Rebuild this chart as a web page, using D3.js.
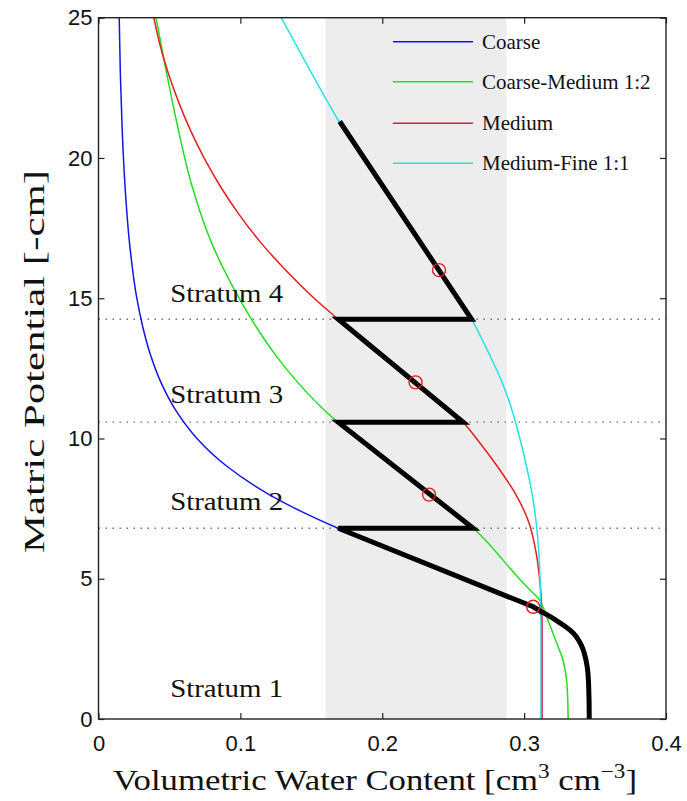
<!DOCTYPE html>
<html>
<head>
<meta charset="utf-8">
<script src="https://cdn.jsdelivr.net/npm/d3@7"></script>
<style>
  html, body { margin: 0; padding: 0; background: #fff; }
  svg { display: block; }
  .tick text { font-family: "Liberation Sans", Arial, sans-serif; font-size: 22px; fill: #111; }
  .serif { font-family: "Liberation Serif", "Times New Roman", serif; fill: #111; }
</style>
</head>
<body>
<svg id="chart" width="687" height="801"></svg>
<script>
// Water retention curves: [volumetric water content, matric potential (-cm)]
const coarse = [
  [0.0146, 25], [0.0154, 23], [0.0167, 21], [0.0187, 19], [0.0218, 17],
  [0.0270, 15], [0.0311, 14], [0.0365, 13], [0.0440, 12], [0.0545, 11],
  [0.0694, 10], [0.0907, 9], [0.1203, 8], [0.1429, 7.4], [0.1688, 6.8],
  [0.2081, 6], [0.2573, 5], [0.2818, 4.5], [0.3064, 4.0], [0.3112, 3.8],
  [0.3123, 3.5], [0.3123, 0]
];
const coarseMedium = [
  [0.0405, 25], [0.0481, 23], [0.0563, 21], [0.0659, 19], [0.0795, 17],
  [0.0991, 15], [0.1109, 14], [0.1244, 13], [0.1404, 12], [0.1594, 11],
  [0.1688, 10.58], [0.1834, 10], [0.2086, 9], [0.2338, 8], [0.2490, 7.4],
  [0.2641, 6.8], [0.2723, 6.4], [0.2811, 5.9], [0.2896, 5.4], [0.2973, 4.96],
  [0.3041, 4.6], [0.3108, 4.25], [0.3132, 4.0], [0.3162, 3.6], [0.3203, 3.06],
  [0.3238, 2.6], [0.3266, 2.23], [0.3287, 1.8], [0.3299, 1.39], [0.3306, 0.9],
  [0.3309, 0.4], [0.3310, 0]
];
const medium = [
  [0.0390, 25], [0.0435, 24], [0.0493, 23], [0.0564, 22], [0.0647, 21],
  [0.0744, 20], [0.0857, 19], [0.0989, 18], [0.1141, 17], [0.1320, 16],
  [0.1520, 15], [0.1688, 14.25], [0.1850, 13.5], [0.2100, 12.5], [0.2235, 12],
  [0.2360, 11.5], [0.2485, 11], [0.2571, 10.58], [0.2664, 10], [0.2812, 9],
  [0.2942, 8], [0.3034, 7], [0.3082, 6], [0.3109, 5], [0.3118, 4.5],
  [0.3123, 4], [0.3126, 3.5], [0.3126, 0]
];
const mediumFine = [
  [0.1288, 25], [0.1396, 24], [0.1505, 23], [0.1615, 22], [0.1695, 21.3],
  [0.1871, 20], [0.2135, 18], [0.2399, 16], [0.2630, 14.25], [0.2755, 13],
  [0.2845, 12], [0.2915, 11], [0.2970, 10], [0.3017, 9], [0.3057, 8],
  [0.3085, 7], [0.3103, 6], [0.3112, 5], [0.3117, 4], [0.3119, 3.5], [0.3119, 0]
];
// Layered profile through the four strata
const profile = [
  [0.3459, 0], [0.3458, 0.6], [0.3456, 1.0], [0.3454, 1.3], [0.3450, 1.63],
  [0.3445, 1.85], [0.3436, 2.1], [0.3424, 2.35], [0.3414, 2.5], [0.3401, 2.65],
  [0.3385, 2.8], [0.3367, 2.94], [0.3347, 3.06], [0.3324, 3.17], [0.3290, 3.3],
  [0.3255, 3.42], [0.3210, 3.57], [0.3160, 3.72], [0.3110, 3.86], [0.3064, 4.0],
  [0.1690, 6.8], [0.2641, 6.8], [0.1690, 10.58], [0.2571, 10.58],
  [0.1690, 14.25], [0.2630, 14.25], [0.1700, 21.3]
];
const markers = [[0.3064, 4], [0.2330, 8], [0.2235, 12], [0.2400, 16]];
const boundaries = [6.8, 10.58, 14.25];
const band = [0.16, 0.2875];
const strata = ["Stratum 1", "Stratum 2", "Stratum 3", "Stratum 4"];
const seriesNames = ["Coarse", "Coarse-Medium 1:2", "Medium", "Medium-Fine 1:1"];
const seriesColors = ["#1414e6", "#22dd22", "#e61e1e", "#22e4e4"];
const xTicks = [0, 0.1, 0.2, 0.3, 0.4];
const xTickLabels = ["0", "0.1", "0.2", "0.3", "0.4"];
const yTicks = [0, 5, 10, 15, 20, 25];
const yTickLabels = ["0", "5", "10", "15", "20", "25"];

(function draw() {
  const svg = d3.select("#chart");
  const pl = 98.5, pr = 666, pt = 17.7, pb = 719;
  const x = d3.scaleLinear().domain([0, 0.4]).range([pl, pr]);
  const y = d3.scaleLinear().domain([0, 25]).range([pb, pt]);

  svg.append("defs").append("clipPath").attr("id", "plot-clip")
    .append("rect").attr("x", pl).attr("y", pt)
    .attr("width", pr - pl).attr("height", pb - pt);

  const plot = svg.append("g").attr("clip-path", "url(#plot-clip)");

  // shaded theta range
  plot.append("rect")
    .attr("x", x(band[0])).attr("y", pt)
    .attr("width", x(band[1]) - x(band[0])).attr("height", pb - pt)
    .attr("fill", "#ededed");

  // strata boundaries
  plot.selectAll("line.boundary").data(boundaries).join("line")
    .attr("class", "boundary")
    .attr("x1", pl).attr("x2", pr)
    .attr("y1", d => y(d)).attr("y2", d => y(d))
    .attr("stroke", "#666").attr("stroke-width", 1.3)
    .attr("stroke-dasharray", "1.4,5.6");

  // retention curves, ordered top to bottom so y is monotonic
  const curveLine = d3.line()
    .x(d => x(d[0])).y(d => y(d[1]))
    .curve(d3.curveMonotoneY);
  const allSeries = [coarse, coarseMedium, medium, mediumFine];
  allSeries.forEach((s, i) => {
    plot.append("path")
      .datum(s.slice().sort((a, b) => b[1] - a[1]))
      .attr("d", curveLine)
      .attr("fill", "none")
      .attr("stroke", seriesColors[i])
      .attr("stroke-width", 1.5);
  });

  // layered profile
  plot.append("path")
    .datum(profile)
    .attr("d", d3.line().x(d => x(d[0])).y(d => y(d[1])))
    .attr("fill", "none")
    .attr("stroke", "#000")
    .attr("stroke-width", 5)
    .attr("stroke-linejoin", "miter");

  plot.selectAll("circle.marker").data(markers).join("circle")
    .attr("class", "marker")
    .attr("cx", d => x(d[0])).attr("cy", d => y(d[1]))
    .attr("r", 6.5)
    .attr("fill", "none")
    .attr("stroke", "#e02020")
    .attr("stroke-width", 1.4);

  // stratum labels
  const labelPsi = [0.8, 7.45, 11.28, 14.87];
  svg.selectAll("text.stratum").data(strata).join("text")
    .attr("class", "stratum serif")
    .attr("x", x(0.0505))
    .attr("y", (d, i) => y(labelPsi[i]))
    .attr("font-size", 26)
    .attr("textLength", 113)
    .attr("lengthAdjust", "spacingAndGlyphs")
    .text(d => d);

  // axes: ticks point inward on all four sides
  const axisG = svg.append("g");
  axisG.append("g").attr("transform", `translate(0,${pb})`)
    .call(d3.axisBottom(x).tickValues(xTicks).tickSize(-6).tickPadding(16)
      .tickFormat((d, i) => xTickLabels[i]));
  axisG.append("g").attr("transform", `translate(0,${pt})`)
    .call(d3.axisTop(x).tickValues(xTicks).tickSize(-6).tickFormat(""));
  axisG.append("g").attr("transform", `translate(${pl},0)`)
    .call(d3.axisLeft(y).tickValues(yTicks).tickSize(-6).tickPadding(6)
      .tickFormat((d, i) => yTickLabels[i]));
  axisG.append("g").attr("transform", `translate(${pr},0)`)
    .call(d3.axisRight(y).tickValues(yTicks).tickSize(-6).tickFormat(""));
  axisG.selectAll(".domain").remove();
  axisG.selectAll(".tick line").attr("stroke", "#222").attr("stroke-width", 1.2);

  svg.append("rect")
    .attr("x", pl).attr("y", pt)
    .attr("width", pr - pl).attr("height", pb - pt)
    .attr("fill", "none").attr("stroke", "#222").attr("stroke-width", 1.4);

  // axis titles
  const xt = svg.append("text").attr("class", "serif")
    .attr("x", 113).attr("y", 790)
    .attr("font-size", 30)
    .attr("textLength", 524).attr("lengthAdjust", "spacingAndGlyphs");
  xt.append("tspan").text("Volumetric Water Content [cm");
  xt.append("tspan").attr("dy", -12).attr("font-size", 20).text("3");
  xt.append("tspan").attr("dy", 12).text(" cm");
  xt.append("tspan").attr("dy", -12).attr("font-size", 20).text("\u22123");
  xt.append("tspan").attr("dy", 12).text("]");

  svg.append("text").attr("class", "serif")
    .attr("transform", "translate(44,553) rotate(-90)")
    .attr("x", 0).attr("y", 0)
    .attr("font-size", 30)
    .attr("textLength", 383).attr("lengthAdjust", "spacingAndGlyphs")
    .text("Matric Potential [-cm]");

  // legend
  const legendY = [41.7, 81.7, 123.3, 163.3];
  const legend = svg.append("g");
  seriesNames.forEach((name, i) => {
    legend.append("line")
      .attr("x1", 393).attr("x2", 473)
      .attr("y1", legendY[i]).attr("y2", legendY[i])
      .attr("stroke", seriesColors[i]).attr("stroke-width", 1.5);
    legend.append("text").attr("class", "serif")
      .attr("x", 482).attr("y", legendY[i] + 7)
      .attr("font-size", 21)
      .text(name);
  });
})();
</script>
</body>
</html>
